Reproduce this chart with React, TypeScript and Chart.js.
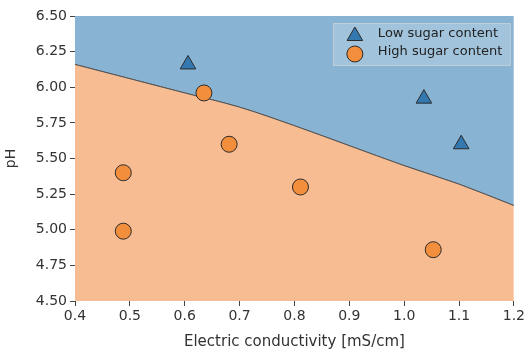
import React, { useEffect, useRef } from "react";
import { Chart, registerables } from "chart.js";

Chart.register(...registerables);

const boundaryX = [0.4, 0.5, 0.6, 0.7, 0.8, 0.9, 1.0, 1.1, 1.2];
const boundaryPH = [6.16, 6.06, 5.96, 5.86, 5.73, 5.59, 5.45, 5.32, 5.17];

const lowX = [0.606, 1.036, 1.104];
const lowPH = [6.16, 5.92, 5.6];

const highX = [0.635, 0.681, 0.488, 0.488, 0.811, 1.053];
const highPH = [5.96, 5.6, 5.4, 4.99, 5.3, 4.86];

const legendLabels = ["Low sugar content", "High sugar content"];

const BLUE_REGION = "#88b3d3";
const ORANGE_REGION = "#f8bc92";
const BLUE_MARK = "#3379b0";
const ORANGE_MARK = "#f28e3c";
const FONT = "'DejaVu Sans', sans-serif";

const legendPlugin = {
  id: "customLegend",
  afterDraw(chart: any) {
    const ctx = chart.ctx;
    const area = chart.chartArea;
    const w = 177;
    const h = 42;
    const x0 = area.right - 4 - w;
    const y0 = area.top + 7;
    ctx.save();
    ctx.fillStyle = "rgba(255,255,255,0.22)";
    ctx.strokeStyle = "rgba(220,220,220,0.6)";
    ctx.lineWidth = 1;
    ctx.beginPath();
    ctx.rect(x0 + 0.5, y0 + 0.5, w, h);
    ctx.fill();
    ctx.stroke();
    const mx = x0 + 22;
    const mRows = [y0 + 13, y0 + 31];
    const tRows = [y0 + 11, y0 + 29];
    // triangle
    ctx.beginPath();
    const r = 9;
    ctx.moveTo(mx, mRows[0] - r);
    ctx.lineTo(mx + Math.sin((2 * Math.PI) / 3) * r, mRows[0] + r / 2);
    ctx.lineTo(mx - Math.sin((2 * Math.PI) / 3) * r, mRows[0] + r / 2);
    ctx.closePath();
    ctx.fillStyle = BLUE_MARK;
    ctx.strokeStyle = "#2b2b2b";
    ctx.fill();
    ctx.stroke();
    // circle
    ctx.beginPath();
    ctx.arc(mx, mRows[1], 8, 0, Math.PI * 2);
    ctx.fillStyle = ORANGE_MARK;
    ctx.fill();
    ctx.stroke();
    ctx.fillStyle = "#222";
    ctx.font = `13px ${FONT}`;
    ctx.textBaseline = "middle";
    ctx.textAlign = "left";
    ctx.fillText(legendLabels[0], x0 + 45, tRows[0]);
    ctx.fillText(legendLabels[1], x0 + 45, tRows[1]);
    ctx.restore();
  },
};

export default function App() {
  const ref = useRef<HTMLCanvasElement>(null);
  useEffect(() => {
    if (!ref.current) return;
    const boundary = boundaryX.map((x, i) => ({ x, y: boundaryPH[i] }));
    const chart = new Chart(ref.current, {
      type: "scatter",
      data: {
        datasets: [
          {
            type: "line",
            data: boundary,
            borderColor: "#555",
            borderWidth: 1,
            pointRadius: 0,
            cubicInterpolationMode: "monotone",
            backgroundColor: BLUE_REGION,
            fill: "end",
            order: 3,
          } as any,
          {
            type: "line",
            data: boundary,
            borderColor: "#555",
            borderWidth: 1,
            pointRadius: 0,
            cubicInterpolationMode: "monotone",
            backgroundColor: ORANGE_REGION,
            fill: "start",
            order: 2,
          } as any,
          {
            data: lowX.map((x, i) => ({ x, y: lowPH[i] })),
            pointStyle: "triangle",
            pointRadius: 9,
            backgroundColor: BLUE_MARK,
            borderColor: "#2b2b2b",
            borderWidth: 1,
            order: 0,
          },
          {
            data: highX.map((x, i) => ({ x, y: highPH[i] })),
            pointStyle: "circle",
            pointRadius: 8,
            backgroundColor: ORANGE_MARK,
            borderColor: "#2b2b2b",
            borderWidth: 1,
            order: 0,
          },
        ],
      },
      options: {
        responsive: false,
        animation: false,
        events: [],
        layout: { padding: { left: 0, right: 12, top: 16, bottom: 0 } },
        plugins: { legend: { display: false }, tooltip: { enabled: false } },
        scales: {
          x: {
            type: "linear",
            min: 0.4,
            max: 1.2,
            border: { display: false },
            grid: { drawOnChartArea: false, drawTicks: true, tickLength: 5, color: "#444" },
            ticks: {
              stepSize: 0.1,
              padding: 2,
              color: "#333",
              font: { family: FONT, size: 14 },
              callback: (v: any) => Number(v).toFixed(1),
            },
            title: {
              display: true,
              text: "Electric conductivity [mS/cm]",
              color: "#333",
              font: { family: FONT, size: 15 },
              padding: { top: 0, bottom: 2 },
            },
            afterFit: (s: any) => {
              s.height = 52;
            },
          },
          y: {
            type: "linear",
            min: 4.5,
            max: 6.5,
            border: { display: false },
            grid: { drawOnChartArea: false, drawTicks: true, tickLength: 5, color: "#444" },
            ticks: {
              stepSize: 0.25,
              padding: 3,
              color: "#333",
              font: { family: FONT, size: 14 },
              callback: (v: any) => Number(v).toFixed(2),
            },
            title: {
              display: true,
              text: "pH",
              color: "#333",
              font: { family: FONT, size: 14 },
              padding: { top: 3, bottom: 0 },
            },
            afterFit: (s: any) => {
              s.width = 75;
            },
          },
        },
      },
      plugins: [legendPlugin],
    });
    return () => chart.destroy();
  }, []);
  return (
    <div style={{ position: "fixed", left: 0, top: 0, width: 527, height: 353, background: "#fff" }}>
      <canvas ref={ref} width={527} height={353} />
    </div>
  );
}
